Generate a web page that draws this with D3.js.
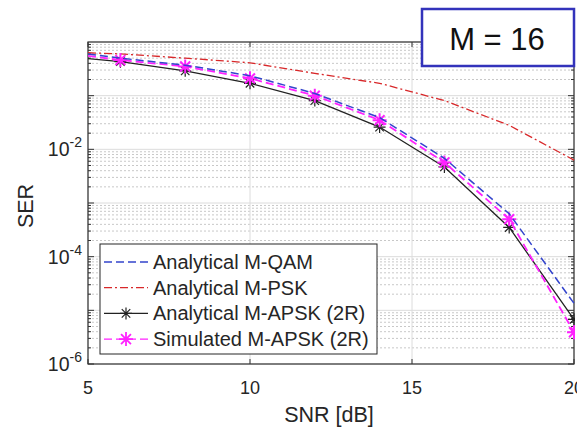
<!DOCTYPE html>
<html>
<head>
<meta charset="utf-8">
<script src="https://cdn.jsdelivr.net/npm/d3@7"></script>
<style>
  body { margin: 0; background: #fff; }
  svg { display: block; font-family: "Liberation Sans", Arial, sans-serif; }
</style>
</head>
<body>
<svg id="chart" width="577" height="430"></svg>
<script>
// SNR points (dB)
const snr = [5, 6, 8, 10, 12, 14, 16, 18, 20]
// SER curves
const serQAM  = [0.60, 0.50, 0.37, 0.235, 0.11, 0.039, 0.0068, 0.00063, 0.0000135]
const serPSK  = [0.63, 0.60, 0.50, 0.41, 0.26, 0.17, 0.081, 0.028, 0.0063]
const serAPSK = [0.49, 0.43, 0.29, 0.17, 0.081, 0.026, 0.0047, 0.00035, 0.0000068]
const serSim  = [0.55, 0.46, 0.35, 0.21, 0.10, 0.035, 0.0057, 0.0005, 0.0000039]
const markerSnr = [6, 8, 10, 12, 14, 16, 18, 20]
const xTicks = [5, 10, 15, 20]
const yTicks = [-6, -4, -2]
const legendNames = ["Analytical M-QAM", "Analytical M-PSK", "Analytical M-APSK (2R)", "Simulated M-APSK (2R)"]

const margin = {left: 88, top: 42, right: 3, bottom: 66}
const W = 577, H = 430
const svg = d3.select("#chart")

const x = d3.scaleLinear().domain([5, 20]).range([margin.left, W - margin.right])
const y = d3.scaleLog().domain([1e-6, 1]).range([H - margin.bottom, margin.top])

const gridG = svg.append("g")
// minor y grid (dotted)
for (let e = -6; e < 0; e++) {
  for (let k = 2; k <= 9; k++) {
    gridG.append("line")
      .attr("x1", x(5)).attr("x2", x(20))
      .attr("y1", y(k * Math.pow(10, e))).attr("y2", y(k * Math.pow(10, e)))
      .attr("stroke", "#c8c8c8").attr("stroke-width", 1)
      .attr("stroke-dasharray", "2,2")
  }
}
// major grid
for (let e = -6; e <= 0; e++) {
  gridG.append("line")
    .attr("x1", x(5)).attr("x2", x(20))
    .attr("y1", y(Math.pow(10, e))).attr("y2", y(Math.pow(10, e)))
    .attr("stroke", "#dcdcdc").attr("stroke-width", 1)
}
xTicks.forEach(t => {
  gridG.append("line")
    .attr("x1", x(t)).attr("x2", x(t))
    .attr("y1", y(1)).attr("y2", y(1e-6))
    .attr("stroke", "#dcdcdc").attr("stroke-width", 1)
})

// axes box
const axG = svg.append("g").attr("stroke", "#333").attr("fill", "none")
axG.append("rect")
  .attr("x", x(5)).attr("y", y(1))
  .attr("width", x(20) - x(5)).attr("height", y(1e-6) - y(1))
  .attr("stroke-width", 1.2)
// ticks
xTicks.forEach(t => {
  axG.append("line").attr("x1", x(t)).attr("x2", x(t)).attr("y1", y(1e-6)).attr("y2", y(1e-6) - 5)
  axG.append("line").attr("x1", x(t)).attr("x2", x(t)).attr("y1", y(1)).attr("y2", y(1) + 5)
})
for (let e = -6; e < 0; e++) {
  for (let k = 1; k <= 9; k++) {
    const v = k * Math.pow(10, e), len = k === 1 ? 6 : 3
    axG.append("line").attr("x1", x(5)).attr("x2", x(5) + len).attr("y1", y(v)).attr("y2", y(v))
    axG.append("line").attr("x1", x(20)).attr("x2", x(20) - len).attr("y1", y(v)).attr("y2", y(v))
  }
}

// tick labels
const lab = svg.append("g").attr("fill", "#262626")
xTicks.forEach(t => {
  lab.append("text").attr("x", x(t)).attr("y", 394)
    .attr("text-anchor", "middle").attr("font-size", 18).text(t)
})
yTicks.forEach(e => {
  const t = lab.append("text").attr("x", 82).attr("y", y(Math.pow(10, e)) + 7)
    .attr("text-anchor", "end").attr("font-size", 19.5)
  t.append("tspan").text("10")
  t.append("tspan").attr("dy", -9).attr("font-size", 14).text(e)
})
lab.append("text").attr("x", x(12.5) - 2).attr("y", 422)
  .attr("text-anchor", "middle").attr("font-size", 21.5).text("SNR [dB]")
lab.append("text").attr("transform", `translate(33,${y(1e-3) + 3}) rotate(-90)`)
  .attr("text-anchor", "middle").attr("font-size", 21.5).text("SER")

// curves
const line = d3.line().x(d => x(d[0])).y(d => y(d[1]))
const clip = svg.append("clipPath").attr("id", "clip").append("rect")
  .attr("x", x(5)).attr("y", y(1)).attr("width", x(20) - x(5) + 1).attr("height", y(1e-6) - y(1))
const plotG = svg.append("g").attr("clip-path", "url(#clip)")

function asterisk(g, cx, cy, r, color, sw) {
  const s = r * Math.SQRT1_2
  const p = `M${cx - r},${cy}L${cx + r},${cy}M${cx},${cy - r}L${cx},${cy + r}` +
            `M${cx - s},${cy - s}L${cx + s},${cy + s}M${cx - s},${cy + s}L${cx + s},${cy - s}`
  g.append("path").attr("d", p).attr("stroke", color).attr("stroke-width", sw).attr("fill", "none")
}

const zip = arr => snr.map((s, i) => [s, arr[i]])

plotG.append("path").datum(zip(serPSK)).attr("d", line)
  .attr("fill", "none").attr("stroke", "#d8282a").attr("stroke-width", 1.3)
  .attr("stroke-dasharray", "8,3,2,3")
plotG.append("path").datum(zip(serAPSK)).attr("d", line)
  .attr("fill", "none").attr("stroke", "#222").attr("stroke-width", 1.3)
markerSnr.forEach(s => asterisk(plotG, x(s), y(serAPSK[snr.indexOf(s)]), 6, "#222", 1.2))
plotG.append("path").datum(zip(serSim)).attr("d", line)
  .attr("fill", "none").attr("stroke", "#ff22ff").attr("stroke-width", 1.8)
  .attr("stroke-dasharray", "8,4")
markerSnr.forEach(s => asterisk(plotG, x(s), y(serSim[snr.indexOf(s)]), 7, "#ff22ff", 2))
plotG.append("path").datum(zip(serQAM)).attr("d", line)
  .attr("fill", "none").attr("stroke", "#3344cc").attr("stroke-width", 1.5)
  .attr("stroke-dasharray", "8,4")

// legend
const lg = svg.append("g")
lg.append("rect").attr("x", 100).attr("y", 244).attr("width", 277).attr("height", 110)
  .attr("fill", "#fff").attr("stroke", "#262626").attr("stroke-width", 1)
const legendStyle = [
  {color: "#3344cc", dash: "8,4", marker: false, sw: 1.3},
  {color: "#d8282a", dash: "8,3,2,3", marker: false, sw: 1.3},
  {color: "#222", dash: null, marker: true, sw: 1.2, r: 6, msw: 1.2},
  {color: "#ff22ff", dash: "8,4", marker: true, sw: 1.2, r: 7, msw: 1.8}
]
legendNames.forEach((name, i) => {
  const ly = 262 + i * 25.7, st = legendStyle[i]
  lg.append("line").attr("x1", 104).attr("x2", 148).attr("y1", ly).attr("y2", ly)
    .attr("stroke", st.color).attr("stroke-width", st.sw)
    .attr("stroke-dasharray", st.dash)
  if (st.marker) asterisk(lg, 126, ly, st.r, st.color, st.msw)
  lg.append("text").attr("x", 153).attr("y", ly + 7).attr("font-size", 20)
    .attr("fill", "#262626").text(name)
})

// M = 16 annotation
svg.append("rect").attr("x", 422).attr("y", 9).attr("width", 152).attr("height", 57)
  .attr("fill", "#fff").attr("stroke", "#3333bb").attr("stroke-width", 2.5)
svg.append("text").attr("x", 497).attr("y", 50).attr("text-anchor", "middle")
  .attr("font-size", 31).attr("fill", "#111").text("M = 16")
</script>
</body>
</html>
